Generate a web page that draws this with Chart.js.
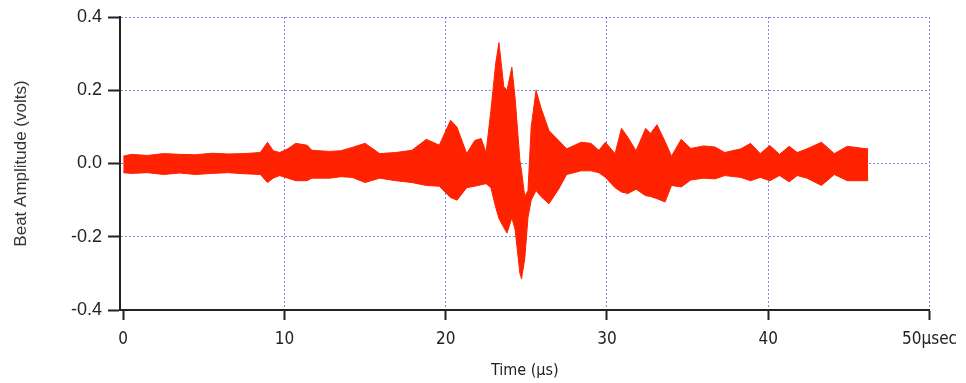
<!DOCTYPE html>
<html>
<head>
<meta charset="utf-8">
<script src="https://cdn.jsdelivr.net/npm/chart.js@4.4.0/dist/chart.umd.min.js"></script>
<style>
  html, body { margin: 0; padding: 0; background: #fff; }
  #chart-box { width: 966px; height: 383px; }
</style>
</head>
<body>
<div id="chart-box"><canvas id="beat-canvas" width="966" height="383"></canvas></div>
<script>
// time in microseconds, with upper and lower envelope of the beat signal (volts)
var timeUs = [0.0, 0.5, 1.5, 2.5, 3.5, 4.5, 5.5, 6.5, 7.5, 8.5, 8.95, 9.3, 9.7, 10.2, 10.7, 11.4, 11.7, 12.8, 13.5, 14.2,
    15.0, 15.9, 16.9, 17.9, 18.8, 19.6, 20.3, 20.7, 21.3, 21.8, 22.2, 22.5, 22.8, 23.1, 23.3, 23.6, 23.8, 24.1, 24.3, 24.6,
    24.7, 24.9, 25.1, 25.3, 25.6, 25.9, 26.4, 27.0, 27.5, 28.4, 29.0, 29.5, 29.9, 30.5, 30.9, 31.3, 31.8, 32.4, 32.7, 33.1,
    33.6, 34.0, 34.6, 35.2, 36.0, 36.7, 37.3, 38.3, 38.9, 39.5, 40.1, 40.7, 41.3, 41.8, 42.4, 43.3, 44.1, 44.9, 46.1, 46.2];

var upperV = [0.020, 0.025, 0.022, 0.027, 0.025, 0.024, 0.028, 0.026, 0.027, 0.030, 0.058, 0.035, 0.030, 0.040, 0.055, 0.050, 0.036, 0.033, 0.035, 0.044,
    0.055, 0.027, 0.030, 0.036, 0.066, 0.050, 0.118, 0.099, 0.027, 0.063, 0.068, 0.030, 0.145, 0.274, 0.330, 0.210, 0.200, 0.263, 0.180, 0.008,
    -0.020, -0.090, -0.074, 0.100, 0.200, 0.153, 0.090, 0.063, 0.040, 0.058, 0.055, 0.036, 0.058, 0.027, 0.096, 0.071, 0.035, 0.096, 0.082, 0.106,
    0.060, 0.020, 0.066, 0.041, 0.048, 0.045, 0.030, 0.040, 0.055, 0.027, 0.049, 0.025, 0.047, 0.030, 0.040, 0.058, 0.027, 0.047, 0.040, 0.040];

var lowerV = [-0.025, -0.027, -0.025, -0.030, -0.026, -0.030, -0.027, -0.025, -0.028, -0.030, -0.052, -0.040, -0.033, -0.040, -0.047, -0.047, -0.040, -0.040, -0.036, -0.038,
    -0.052, -0.040, -0.047, -0.052, -0.060, -0.062, -0.093, -0.100, -0.066, -0.062, -0.058, -0.055, -0.066, -0.120, -0.150, -0.175, -0.190, -0.148, -0.180, -0.300,
    -0.315, -0.260, -0.148, -0.100, -0.074, -0.090, -0.110, -0.070, -0.030, -0.020, -0.020, -0.025, -0.038, -0.066, -0.078, -0.082, -0.070, -0.088, -0.090, -0.096,
    -0.105, -0.060, -0.064, -0.045, -0.040, -0.042, -0.033, -0.038, -0.047, -0.038, -0.047, -0.033, -0.050, -0.033, -0.040, -0.060, -0.030, -0.047, -0.047, -0.047];

var xTicks = [0, 10, 20, 30, 40, 50];
var yTicks = [-0.4, -0.2, 0.0, 0.2, 0.4];

(function(){
    var RED = 'rgb(255, 34, 0)';
    var GRID = 'rgb(130, 130, 225)';

    function points(vals){
        return timeUs.map(function(t, i){ return {x: t, y: vals[i]}; });
    }

    var ctx = document.getElementById('beat-canvas').getContext('2d');
    new Chart(ctx, {
        type: 'line',
        data: {
            datasets: [{
                label: 'upper',
                data: points(upperV),
                borderColor: RED,
                backgroundColor: RED,
                borderWidth: 1,
                pointRadius: 0,
                fill: '+1'
            }, {
                label: 'lower',
                data: points(lowerV),
                borderColor: RED,
                borderWidth: 1,
                pointRadius: 0,
                fill: false
            }]
        },
        options: {
            responsive: false,
            animation: false,
            layout: { padding: { top: 17, right: 30, left: 0, bottom: 0 } },
            plugins: { legend: { display: false }, tooltip: { enabled: false } },
            scales: {
                x: {
                    type: 'linear',
                    min: -0.2,
                    max: 50,
                    afterBuildTicks: function(scale){
                        scale.ticks = xTicks.map(function(v){ return {value: v}; });
                    },
                    afterFit: function(scale){ scale.height = 73; },
                    ticks: {
                        padding: 9,
                        color: '#222',
                        maxRotation: 0,
                        font: { family: 'DejaVu Sans Condensed', size: 17 },
                        callback: function(v){ return v === 50 ? '50\u00b5sec' : String(v); }
                    },
                    grid: {
                        color: function(c){ return (c.tick && c.tick.value === 0) ? 'rgba(0,0,0,0)' : GRID; },
                        lineWidth: 1,
                        tickColor: '#222',
                        tickWidth: 2,
                        tickLength: 10
                    },
                    border: { display: true, color: '#222', width: 2, dash: [2, 2] },
                    title: {
                        display: true,
                        text: 'Time (\u00b5s)',
                        color: '#222',
                        font: { family: 'DejaVu Sans Condensed', size: 16 },
                        padding: { top: 0, bottom: 3 }
                    }
                },
                y: {
                    min: -0.4,
                    max: 0.4,
                    afterBuildTicks: function(scale){
                        scale.ticks = yTicks.map(function(v){ return {value: v}; });
                    },
                    afterFit: function(scale){ scale.width = 120; },
                    ticks: {
                        padding: 6,
                        color: '#222',
                        font: { family: 'Liberation Sans', size: 18 },
                        callback: function(v){ return Number(v).toFixed(1); }
                    },
                    grid: {
                        color: GRID,
                        lineWidth: 1,
                        tickColor: '#222',
                        tickWidth: 2,
                        tickLength: 12
                    },
                    border: { display: true, color: '#222', width: 2, dash: [2, 2] },
                    title: {
                        display: true,
                        text: 'Beat Amplitude (volts)',
                        color: '#333',
                        font: { family: 'Liberation Sans', size: 17 },
                        padding: { top: 11, bottom: 0 }
                    }
                }
            }
        }
    });
})();
</script>
</body>
</html>
